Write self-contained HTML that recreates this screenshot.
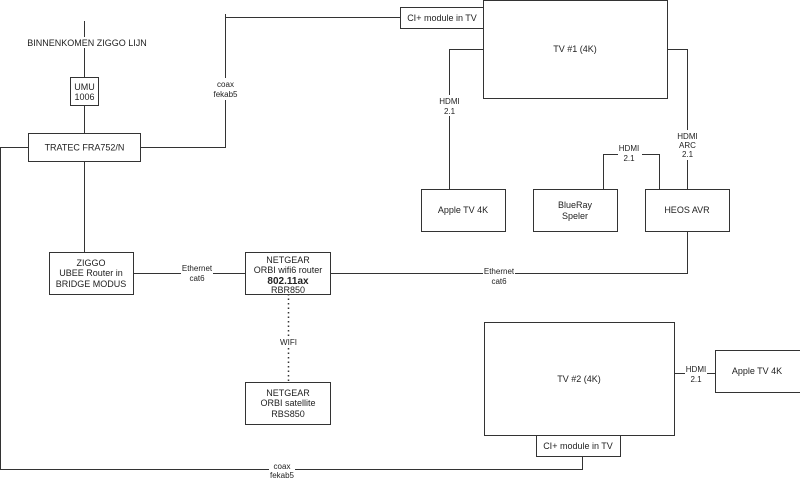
<!DOCTYPE html>
<html><head><meta charset="utf-8"><style>
html,body{margin:0;padding:0;background:#fff;width:800px;height:480px;overflow:hidden}
svg{display:block}
text{font-family:"Liberation Sans",sans-serif;font-size:9px;fill:#222;text-anchor:middle}
.l{font-size:8px}
</style></head><body>
<svg width="800" height="480" viewBox="0 0 800 480">
<g fill="none" stroke="#333" stroke-width="1">
<!-- lines -->
<path d="M84.5 21V77M84.5 105V133M84.5 161V252"/>
<path d="M140 147.5H225.5V17.5H400M225.5 14V20"/>
<path d="M483 49.5H449.5V189"/>
<path d="M603.5 189V154.5H659.5V189"/>
<path d="M667 49.5H687.5V189"/>
<path d="M687.5 231V273.5H330"/>
<path d="M133 273.5H245"/>
<path d="M288.5 294V382" stroke-dasharray="1.5,3" stroke-width="1.5"/>
<path d="M28 147.5H0.5V469.5H582.5V456"/>
<path d="M674 373.5H715"/>
<!-- boxes -->
<rect x="70.5" y="77.5" width="28" height="28"/>
<rect x="28.5" y="133.5" width="112" height="28"/>
<rect x="400.5" y="7.5" width="83" height="21"/>
<rect x="483.5" y="0.5" width="184" height="98"/>
<rect x="421.5" y="189.5" width="84" height="42"/>
<rect x="533.5" y="189.5" width="84" height="42"/>
<rect x="645.5" y="189.5" width="84" height="42"/>
<rect x="49.5" y="252.5" width="84" height="42"/>
<rect x="245.5" y="252.5" width="85" height="42"/>
<rect x="245.5" y="382.5" width="85" height="42"/>
<rect x="484.5" y="322.5" width="190" height="113"/>
<rect x="536.5" y="435.5" width="84" height="21"/>
<rect x="715.5" y="350.5" width="85" height="42"/>
</g>
<!-- label backgrounds -->
<g fill="#fff">
<rect x="35" y="37" width="102" height="11"/>
<rect x="214" y="78" width="23" height="22"/>
<rect x="437" y="95" width="24" height="21"/>
<rect x="618" y="143" width="24" height="20"/>
<rect x="675" y="130" width="24" height="30"/>
<rect x="181" y="263" width="32" height="20"/>
<rect x="483" y="266" width="32" height="20"/>
<rect x="280" y="336" width="17" height="11"/>
<rect x="269" y="460" width="26" height="20"/>
<rect x="685" y="363" width="22" height="20"/>
</g>
<text x="87" y="46">BINNENKOMEN ZIGGO LIJN</text>
<text x="84.5" y="90">UMU</text><text x="84.5" y="100">1006</text>
<text x="84.5" y="150.5">TRATEC FRA752/N</text>
<text class="l" x="225.5" y="87">coax</text><text class="l" x="225.5" y="97">fekab5</text>
<text x="442" y="21">CI+ module in TV</text>
<text x="575" y="52">TV #1 (4K)</text>
<text class="l" x="449.5" y="104">HDMI</text><text class="l" x="449.5" y="114">2.1</text>
<text x="463" y="213">Apple TV 4K</text>
<text x="575" y="208">BlueRay</text><text x="575" y="219">Speler</text>
<text x="687" y="213">HEOS AVR</text>
<text class="l" x="629" y="151">HDMI</text><text class="l" x="629" y="161">2.1</text>
<text class="l" x="687.5" y="139">HDMI</text><text class="l" x="687.5" y="148">ARC</text><text class="l" x="687.5" y="157">2.1</text>
<text x="91" y="266">ZIGGO</text><text x="91" y="276">UBEE Router in</text><text x="91" y="287">BRIDGE MODUS</text>
<text class="l" x="197" y="271">Ethernet</text><text class="l" x="197" y="281">cat6</text>
<text x="288" y="263">NETGEAR</text><text x="288" y="273">ORBI wifi6 router</text>
<text x="288" y="284" style="font-weight:bold;font-size:10px">802.11ax</text><text x="288" y="293">RBR850</text>
<text class="l" x="499" y="274">Ethernet</text><text class="l" x="499" y="284">cat6</text>
<text class="l" x="288.5" y="345">WIFI</text>
<text x="288" y="396">NETGEAR</text><text x="288" y="406">ORBI satellite</text><text x="288" y="417">RBS850</text>
<text x="579" y="382">TV #2 (4K)</text>
<text x="578" y="449">CI+ module in TV</text>
<text class="l" x="696" y="372">HDMI</text><text class="l" x="696" y="382">2.1</text>
<text x="757" y="374">Apple TV 4K</text>
<text class="l" x="282" y="469">coax</text><text class="l" x="282" y="478">fekab5</text>
</svg>
</body></html>
